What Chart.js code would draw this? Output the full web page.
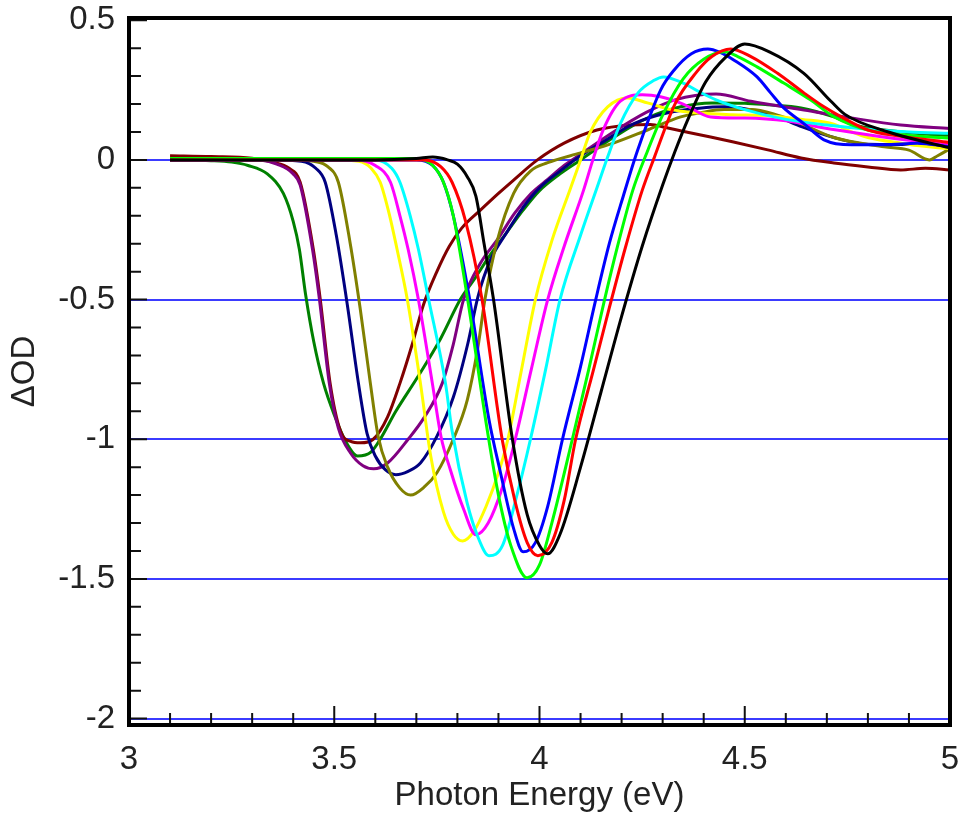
<!DOCTYPE html>
<html lang="en">
<head>
  <meta charset="UTF-8" />
  <title>ΔOD vs Photon Energy</title>
  <script src="https://cdn.jsdelivr.net/npm/chart.js"></script>
  <style>
    body { margin: 0; background: #fff; }
    canvas { display: block; }
  </style>
</head>
<body>
  <canvas id="odChart" width="960" height="816"></canvas>
  <script>
    // axis ticks
    const xTicks = [3, 3.5, 4, 4.5, 5];
    const yTicks = [-2, -1.5, -1, -0.5, 0, 0.5];
    const blueLines = [-2, -1.5, -1, -0.5, 0];

    // spectra, [energy (eV), ΔOD]
    const darkGreen = [[3.1,0.0],[3.2,-0.003],[3.25,-0.008],[3.29,-0.02],[3.337,-0.05],[3.376,-0.12],[3.4,-0.22],[3.415,-0.32],[3.43,-0.48],[3.45,-0.65],[3.474,-0.8],[3.502,-0.92],[3.525,-1.0],[3.557,-1.06],[3.59,-1.045],[3.612,-1.0],[3.65,-0.9],[3.702,-0.78],[3.759,-0.64],[3.807,-0.5],[3.84,-0.43],[3.88,-0.34],[3.92,-0.26],[3.96,-0.18],[4.0,-0.11],[4.05,-0.05],[4.1,0.0],[4.18,0.08],[4.263,0.15],[4.344,0.19],[4.42,0.204],[4.5,0.203],[4.556,0.197],[4.637,0.186],[4.717,0.154],[4.766,0.125],[4.84,0.107],[4.96,0.09],[5.0,0.088]];
    const maroon = [[3.1,0.015],[3.2,0.012],[3.3,0.006],[3.35,-0.008],[3.39,-0.03],[3.417,-0.08],[3.449,-0.32],[3.466,-0.5],[3.49,-0.8],[3.515,-0.97],[3.54,-1.008],[3.564,-1.013],[3.595,-1.0],[3.63,-0.92],[3.66,-0.8],[3.69,-0.66],[3.717,-0.52],[3.75,-0.4],[3.78,-0.31],[3.81,-0.245],[3.856,-0.18],[3.9,-0.12],[3.937,-0.072],[3.995,0.0],[4.06,0.06],[4.14,0.107],[4.22,0.125],[4.27,0.127],[4.31,0.115],[4.39,0.09],[4.47,0.065],[4.556,0.036],[4.637,0.007],[4.717,-0.011],[4.8,-0.025],[4.88,-0.036],[4.94,-0.03],[5.0,-0.036]];
    const purple = [[3.1,0.005],[3.25,0.004],[3.32,0.0],[3.36,-0.015],[3.4,-0.05],[3.417,-0.09],[3.447,-0.32],[3.464,-0.5],[3.488,-0.8],[3.51,-0.96],[3.54,-1.05],[3.57,-1.095],[3.596,-1.106],[3.63,-1.085],[3.68,-1.0],[3.72,-0.92],[3.763,-0.8],[3.79,-0.66],[3.815,-0.5],[3.856,-0.37],[3.9,-0.28],[3.94,-0.19],[3.98,-0.12],[4.02,-0.07],[4.06,-0.02],[4.1,0.02],[4.18,0.1],[4.26,0.17],[4.33,0.215],[4.43,0.236],[4.515,0.21],[4.637,0.18],[4.76,0.15],[4.88,0.125],[5.0,0.112]];
    const navy = [[3.1,0.0],[3.35,0.0],[3.42,-0.005],[3.455,-0.03],[3.478,-0.08],[3.505,-0.27],[3.532,-0.52],[3.559,-0.8],[3.58,-0.98],[3.6,-1.06],[3.625,-1.11],[3.65,-1.127],[3.68,-1.115],[3.71,-1.085],[3.75,-0.99],[3.79,-0.85],[3.825,-0.66],[3.85,-0.49],[3.88,-0.36],[3.92,-0.26],[3.96,-0.17],[4.0,-0.1],[4.05,-0.04],[4.1,0.015],[4.15,0.06],[4.23,0.13],[4.31,0.168],[4.39,0.185],[4.45,0.19],[4.5,0.183],[4.57,0.16],[4.64,0.118],[4.717,0.08],[4.8,0.056],[4.9,0.055],[5.0,0.048]];
    const olive = [[3.1,0.0],[3.4,0.0],[3.45,-0.005],[3.485,-0.025],[3.51,-0.08],[3.539,-0.3],[3.563,-0.53],[3.588,-0.8],[3.607,-0.99],[3.63,-1.1],[3.66,-1.175],[3.686,-1.2],[3.72,-1.17],[3.75,-1.12],[3.79,-1.0],[3.824,-0.86],[3.85,-0.67],[3.867,-0.5],[3.897,-0.29],[3.937,-0.12],[3.978,-0.04],[4.02,-0.01],[4.1,0.025],[4.18,0.06],[4.263,0.107],[4.344,0.154],[4.39,0.168],[4.45,0.18],[4.515,0.18],[4.58,0.16],[4.637,0.13],[4.717,0.08],[4.84,0.047],[4.9,0.035],[4.95,0.0],[4.97,0.015],[5.0,0.04]];
    const yellow = [[3.1,0.0],[3.5,0.0],[3.56,-0.005],[3.59,-0.03],[3.612,-0.08],[3.635,-0.2],[3.653,-0.32],[3.678,-0.5],[3.71,-0.8],[3.735,-1.06],[3.766,-1.26],[3.79,-1.34],[3.813,-1.364],[3.84,-1.33],[3.87,-1.24],[3.9,-1.12],[3.923,-1.0],[3.955,-0.76],[3.99,-0.5],[4.03,-0.29],[4.076,-0.1],[4.1,0.0],[4.124,0.1],[4.166,0.19],[4.215,0.222],[4.263,0.204],[4.32,0.18],[4.39,0.168],[4.47,0.162],[4.556,0.158],[4.64,0.145],[4.717,0.128],[4.76,0.1],[4.8,0.08],[4.88,0.06],[4.96,0.045],[5.0,0.04]];
    const magenta = [[3.1,0.0],[3.55,0.0],[3.6,-0.02],[3.637,-0.08],[3.66,-0.2],[3.68,-0.32],[3.705,-0.5],[3.739,-0.8],[3.76,-0.99],[3.783,-1.11],[3.815,-1.25],[3.845,-1.342],[3.875,-1.3],[3.91,-1.17],[3.941,-1.0],[3.98,-0.75],[4.02,-0.5],[4.06,-0.31],[4.107,-0.11],[4.13,0.0],[4.156,0.11],[4.197,0.21],[4.25,0.233],[4.295,0.226],[4.35,0.2],[4.417,0.154],[4.5,0.15],[4.6,0.14],[4.68,0.118],[4.8,0.09],[4.9,0.07],[5.0,0.055]];
    const cyan = [[3.1,0.0],[3.6,0.0],[3.64,-0.03],[3.66,-0.08],[3.685,-0.2],[3.705,-0.32],[3.73,-0.5],[3.771,-0.8],[3.787,-0.97],[3.824,-1.23],[3.85,-1.35],[3.877,-1.417],[3.91,-1.38],[3.945,-1.2],[3.978,-1.0],[4.015,-0.75],[4.05,-0.5],[4.1,-0.27],[4.14,-0.1],[4.166,0.01],[4.197,0.13],[4.24,0.24],[4.278,0.284],[4.302,0.297],[4.35,0.275],[4.39,0.243],[4.43,0.215],[4.5,0.18],[4.6,0.145],[4.7,0.125],[4.8,0.11],[4.9,0.1],[5.0,0.095]];
    const blue = [[3.1,0.0],[3.7,0.0],[3.74,-0.02],[3.766,-0.08],[3.79,-0.2],[3.83,-0.5],[3.877,-0.93],[3.905,-1.12],[3.937,-1.32],[3.96,-1.403],[3.99,-1.37],[4.02,-1.24],[4.056,-1.0],[4.1,-0.74],[4.137,-0.5],[4.17,-0.3],[4.204,-0.13],[4.238,0.03],[4.295,0.25],[4.327,0.32],[4.37,0.38],[4.41,0.397],[4.44,0.385],[4.473,0.358],[4.53,0.297],[4.563,0.24],[4.595,0.186],[4.644,0.13],[4.693,0.072],[4.76,0.054],[4.84,0.054],[4.92,0.06],[5.0,0.047]];
    const lime = [[3.1,0.005],[3.7,0.005],[3.74,-0.02],[3.766,-0.08],[3.79,-0.2],[3.825,-0.5],[3.873,-0.97],[3.9,-1.2],[3.93,-1.38],[3.97,-1.496],[4.0,-1.45],[4.03,-1.3],[4.08,-1.0],[4.12,-0.75],[4.157,-0.51],[4.19,-0.31],[4.227,-0.11],[4.26,0.02],[4.3,0.16],[4.35,0.29],[4.4,0.36],[4.45,0.387],[4.483,0.37],[4.53,0.333],[4.595,0.275],[4.66,0.215],[4.717,0.155],[4.8,0.107],[4.88,0.09],[5.0,0.078]];
    const red = [[3.1,0.0],[3.72,0.0],[3.76,-0.025],[3.787,-0.08],[3.82,-0.22],[3.86,-0.5],[3.909,-1.0],[3.94,-1.22],[3.97,-1.37],[3.996,-1.417],[4.03,-1.37],[4.06,-1.22],[4.088,-1.0],[4.13,-0.76],[4.17,-0.53],[4.21,-0.31],[4.25,-0.11],[4.28,0.01],[4.33,0.2],[4.38,0.31],[4.42,0.37],[4.466,0.397],[4.515,0.37],[4.58,0.31],[4.644,0.24],[4.693,0.19],[4.734,0.155],[4.8,0.107],[4.88,0.085],[5.0,0.062]];
    const black = [[3.1,0.0],[3.6,0.0],[3.7,0.005],[3.74,0.01],[3.776,0.0],[3.8,-0.015],[3.824,-0.06],[3.845,-0.13],[3.865,-0.3],[3.888,-0.5],[3.934,-1.0],[3.97,-1.27],[4.0,-1.38],[4.02,-1.41],[4.05,-1.34],[4.1,-1.1],[4.15,-0.83],[4.2,-0.56],[4.25,-0.31],[4.3,-0.09],[4.33,0.03],[4.36,0.14],[4.405,0.28],[4.455,0.37],[4.5,0.415],[4.56,0.387],[4.644,0.31],[4.71,0.21],[4.744,0.163],[4.85,0.1],[5.0,0.043]];

    const spectra = [
      [black, '#000000'], [red, '#ff0000'], [lime, '#00ff00'], [blue, '#0000ff'],
      [cyan, '#00ffff'], [magenta, '#ff00ff'], [yellow, '#ffff00'], [olive, '#808000'],
      [navy, '#000080'], [purple, '#800080'], [maroon, '#800000'], [darkGreen, '#008000']
    ];

    const font = { family: "'Liberation Sans', Arial, Helvetica, sans-serif", size: 33 };

    // frame + inward ticks like the original plot
    const frame = {
      id: 'frame',
      afterDatasetsDraw(chart) {
        const { ctx, chartArea: a, scales: { x, y } } = chart;
        ctx.save();
        ctx.strokeStyle = '#111';
        ctx.lineWidth = 2;
        ctx.beginPath();
        for (let i = -20; i <= 5; i++) {
          const py = y.getPixelForValue(i / 10);
          const len = i % 5 === 0 ? 18 : 12;
          ctx.moveTo(a.left, py);
          ctx.lineTo(a.left + len, py);
        }
        for (let i = 30; i <= 50; i++) {
          const px = x.getPixelForValue(i / 10);
          const len = i % 5 === 0 ? 19 : 12;
          ctx.moveTo(px, a.bottom);
          ctx.lineTo(px, a.bottom - len);
        }
        ctx.stroke();
        ctx.strokeStyle = '#000';
        ctx.lineWidth = 4;
        ctx.strokeRect(a.left, a.top, a.right - a.left, a.bottom - a.top);
        ctx.restore();
      }
    };

    new Chart(document.getElementById('odChart'), {
      type: 'line',
      data: {
        datasets: spectra.map(([pts, color]) => ({
          data: pts.map(([x, y]) => ({ x, y })),
          borderColor: color,
          borderWidth: 3,
          pointRadius: 0,
          fill: false,
          cubicInterpolationMode: 'monotone'
        }))
      },
      options: {
        responsive: false,
        animation: false,
        layout: { padding: { left: 0, right: 10, top: 18, bottom: 0 } },
        plugins: { legend: { display: false }, tooltip: { enabled: false } },
        scales: {
          x: {
            type: 'linear',
            min: 3,
            max: 5,
            afterBuildTicks: s => { s.ticks = xTicks.map(v => ({ value: v })); },
            afterFit: s => { s.height = 91; s.paddingLeft = 0; s.paddingRight = 0; },
            ticks: { font, color: '#222', padding: 7, maxRotation: 0, callback: v => String(v) },
            grid: { display: false },
            border: { display: false },
            title: { display: true, text: 'Photon Energy (eV)', font, color: '#222', padding: { top: 0, bottom: 0 } }
          },
          y: {
            min: -2.023,
            max: 0.508,
            afterBuildTicks: s => { s.ticks = yTicks.map(v => ({ value: v })); },
            afterFit: s => { s.width = 129; s.paddingTop = 0; s.paddingBottom = 0; },
            ticks: { font, color: '#222', padding: 14, callback: v => String(v) },
            grid: {
              drawTicks: false,
              lineWidth: 2,
              color: c => (c.tick && blueLines.includes(c.tick.value)) ? '#3b3bff' : 'rgba(0,0,0,0)'
            },
            border: { display: false },
            title: { display: true, text: 'ΔOD', font, color: '#222', padding: { top: 5, bottom: 0 } }
          }
        }
      },
      plugins: [frame]
    });
  </script>
</body>
</html>
